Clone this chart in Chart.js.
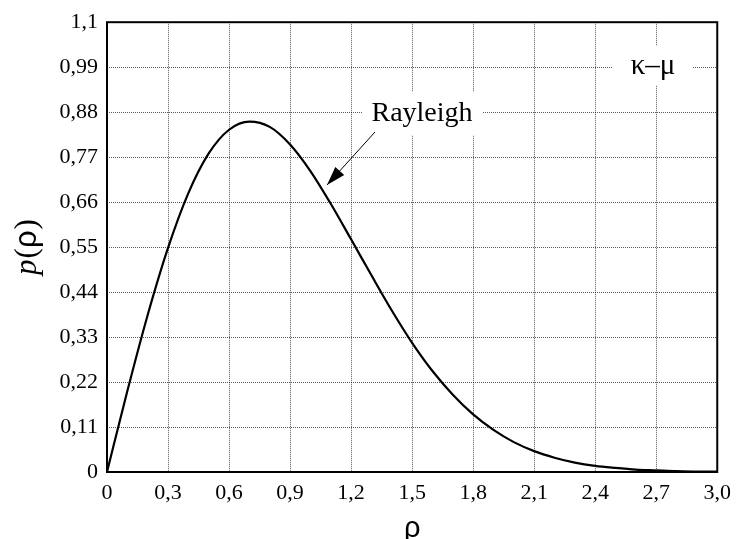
<!DOCTYPE html>
<html lang="en">
<head>
    <meta charset="UTF-8">
    <title>Rayleigh p(ρ)</title>
    <style>
        html, body { margin: 0; padding: 0; background: #fff; }
        .chart-container { position: relative; width: 739px; height: 539px; }
    </style>
    <script src="https://cdn.jsdelivr.net/npm/chart.js"></script>
</head>
<body>
    <div class="chart-container">
        <canvas id="pdfChart"></canvas>
    </div>
    <script>
        // values
        const rhoValues = [0, 0.1, 0.2, 0.3, 0.4, 0.5, 0.6, 0.7, 0.8, 0.9, 1.0,
                           1.1, 1.2, 1.3, 1.4, 1.5, 1.6, 1.7, 1.8, 1.9, 2.0,
                           2.1, 2.2, 2.3, 2.4, 2.5, 2.6, 2.7, 2.8, 2.9, 3.0];
        const pValues = [0, 0.198, 0.384, 0.548, 0.682, 0.779, 0.837, 0.857, 0.844, 0.801, 0.736,
                         0.656, 0.569, 0.481, 0.395, 0.316, 0.247, 0.189, 0.141, 0.103, 0.073,
                         0.051, 0.035, 0.023, 0.015, 0.010, 0.006, 0.004, 0.002, 0.001, 0.001];

        const xTickValues = [0, 0.3, 0.6, 0.9, 1.2, 1.5, 1.8, 2.1, 2.4, 2.7, 3.0];
        const xTickLabels = ['0', '0,3', '0,6', '0,9', '1,2', '1,5', '1,8', '2,1', '2,4', '2,7', '3,0'];
        const yTickValues = [0, 0.11, 0.22, 0.33, 0.44, 0.55, 0.66, 0.77, 0.88, 0.99, 1.1];
        const yTickLabels = ['0', '0,11', '0,22', '0,33', '0,44', '0,55', '0,66', '0,77', '0,88', '0,99', '1,1'];

        const serif = "'Liberation Serif', 'Times New Roman', serif";
        const sans = "'Liberation Sans', Arial, sans-serif";

        // frame, labels, arrow and y title
        const decorations = {
            id: 'decorations',
            beforeDatasetsDraw(chart) {
                const ctx = chart.ctx;
                ctx.save();
                ctx.fillStyle = '#fff';
                ctx.fillRect(362, 92, 121, 43);
                ctx.fillRect(612, 46, 81, 39);
                ctx.restore();
            },
            afterDatasetsDraw(chart) {
                const ctx = chart.ctx;
                const a = chart.chartArea;
                ctx.save();
                ctx.strokeStyle = '#000';
                ctx.lineWidth = 2;
                ctx.strokeRect(a.left, a.top, a.right - a.left, a.bottom - a.top);

                ctx.fillStyle = '#000';
                ctx.textAlign = 'center';
                ctx.textBaseline = 'middle';
                ctx.font = '28px ' + serif;
                ctx.fillText('Rayleigh', 422, 114);
                ctx.font = '29px ' + serif;
                ctx.fillText('κ–μ', 653, 66);

                // arrow
                const x1 = 375, y1 = 132, x2 = 327, y2 = 185;
                const ang = Math.atan2(y2 - y1, x2 - x1);
                ctx.lineWidth = 1;
                ctx.beginPath();
                ctx.moveTo(x1, y1);
                ctx.lineTo(x2, y2);
                ctx.stroke();
                const len = 19, half = 6;
                const bx = x2 - len * Math.cos(ang), by = y2 - len * Math.sin(ang);
                ctx.beginPath();
                ctx.moveTo(x2, y2);
                ctx.lineTo(bx + half * Math.sin(ang), by - half * Math.cos(ang));
                ctx.lineTo(bx - half * Math.sin(ang), by + half * Math.cos(ang));
                ctx.closePath();
                ctx.fill();

                // y axis title: italic p + (ρ)
                ctx.translate(26, 247);
                ctx.rotate(-Math.PI / 2);
                ctx.textAlign = 'left';
                ctx.textBaseline = 'alphabetic';
                ctx.font = 'italic 31px ' + serif;
                const pw = ctx.measureText('p').width;
                ctx.font = '31px ' + serif;
                const ow = ctx.measureText('(').width;
                ctx.font = '31px ' + sans;
                const rw = ctx.measureText('ρ').width;
                const total = pw + ow * 2 + rw + 2;
                let px = -total / 2;
                ctx.font = 'italic 31px ' + serif;
                ctx.fillText('p', px, 10);
                px += pw + 1;
                ctx.font = '31px ' + serif;
                ctx.fillText('(', px, 10);
                px += ow;
                ctx.font = '31px ' + sans;
                ctx.fillText('ρ', px, 10);
                px += rw + 1;
                ctx.font = '31px ' + serif;
                ctx.fillText(')', px, 10);
                ctx.restore();
            }
        };

        const ctx = document.getElementById('pdfChart').getContext('2d');
        new Chart(ctx, {
            type: 'line',
            data: {
                datasets: [{
                    label: 'Rayleigh',
                    data: rhoValues.map((r, i) => ({ x: r, y: pValues[i] })),
                    borderColor: '#000',
                    borderWidth: 2.2,
                    pointRadius: 0,
                    fill: false,
                    cubicInterpolationMode: 'monotone'
                }]
            },
            options: {
                responsive: true,
                maintainAspectRatio: false,
                animation: false,
                layout: { padding: { left: 0, top: 21, right: 17, bottom: 0 } },
                plugins: {
                    legend: { display: false },
                    tooltip: { enabled: false }
                },
                scales: {
                    x: {
                        type: 'linear',
                        min: 0,
                        max: 3,
                        afterBuildTicks: (scale) => { scale.ticks = xTickValues.map(v => ({ value: v })); },
                        afterFit: (scale) => { scale.height = 67; },
                        grid: { color: 'rgba(0,0,0,0.65)', lineWidth: 1, drawTicks: false },
                        border: { display: false, dash: [1, 1] },
                        ticks: {
                            padding: 8,
                            color: '#000',
                            maxRotation: 0,
                            autoSkip: false,
                            font: { family: serif, size: 22 },
                            callback: (v) => xTickLabels[xTickValues.findIndex(t => Math.abs(t - v) < 1e-6)]
                        },
                        title: {
                            display: true,
                            text: 'ρ',
                            color: '#000',
                            font: { family: sans, size: 29 },
                            padding: { top: 0, bottom: -7 }
                        }
                    },
                    y: {
                        min: 0,
                        max: 1.1,
                        afterBuildTicks: (scale) => { scale.ticks = yTickValues.map(v => ({ value: v })); },
                        afterFit: (scale) => { scale.width = 107; },
                        grid: { color: 'rgba(0,0,0,0.65)', lineWidth: 1, drawTicks: false },
                        border: { display: false, dash: [1, 1] },
                        ticks: {
                            padding: 9,
                            color: '#000',
                            autoSkip: false,
                            font: { family: serif, size: 22 },
                            callback: (v) => yTickLabels[yTickValues.findIndex(t => Math.abs(t - v) < 1e-6)]
                        }
                    }
                }
            },
            plugins: [decorations]
        });
    </script>
</body>
</html>
